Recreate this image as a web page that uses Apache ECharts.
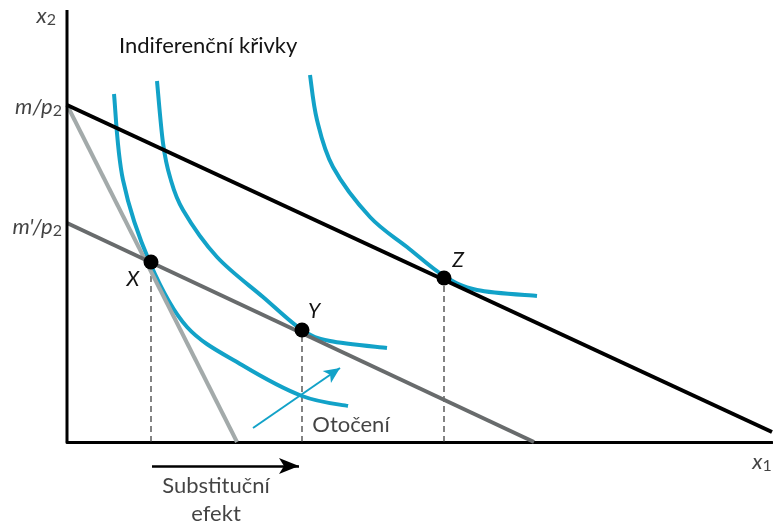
<!DOCTYPE html>
<html><head><meta charset="utf-8">
<script src="https://cdn.jsdelivr.net/npm/echarts@6/dist/echarts.min.js"></script>
<style>html,body{margin:0;padding:0;background:#fff}#c{width:773px;height:525px}</style>
</head><body><div id="c"></div>
<script>
// ---- data (units: goods x1 / x2) ----
const xRange = [0, 705];
const yRange = [-83, 432];
const yAxisLine = [[0, 0], [0, 432]];
const budgetM = [[0, 337], [705, 10]];          // m/p2 budget line
const budgetMPrime = [[0, 219], [467, 0]];      // m'/p2 budget line
const budgetPivot = [[0, 337], [170, 0]];       // rotated (pivoted) line
const curve1 = [[47,348],[56,262],[83,179],[120,115],[175,77],[235,46],[281,36]];
const curve2 = [[90,361],[96,299],[103,265],[116,232],[150,185],[196,145],[235,112],[263,101],[320,94]];
const curve3 = [[243,367],[250,322],[266,275],[303,225],[340,195],[377,166],[410,152],[470,146]];
const pointNames = ['X', 'Y', 'Z'];
const points = [[84,180],[235,112],[377,164]];
const rotationArrow = [[186,14],[273,74]];
const substitutionArrow = [[85,-24],[232,-24]];
const axisLabels = { m: [0,335], mPrime: [0,215], x2: [0,432], x1: [695,-20] };
const textLabels = { rotation: [284,17], substitution: [149,-58] };

const FONT = 'Lato';
const BLUE = '#12a2c8';
const TXT = '#141414';
const curves = [curve1, curve2, curve3];

const rich = {
  i: { fontStyle: 'italic', fontSize: 22, fontFamily: FONT, color: TXT, lineHeight: 24 },
  s: { fontSize: 16, fontFamily: FONT, color: TXT, lineHeight: 10, verticalAlign: 'bottom' }
};

function line(data, color, width, z, type) {
  return { type: 'line', data, symbol: 'none', showSymbol: false, silent: true, clip: false, z,
    lineStyle: { color, width, type: type || 'solid', cap: 'butt' } };
}
function textPoint(value, formatter, position, distance) {
  return { value, label: { show: true, formatter, position, distance } };
}

// indifference curves: smooth spline through the read points, positioned by the axes (api.coord)
function renderCurve(params, api) {
  const pts = curves[api.value(0)].map(p => api.coord(p));
  let d = 'M' + pts[0][0] + ',' + pts[0][1];
  for (let i = 0; i < pts.length - 1; i++) {
    const p0 = pts[i - 1] || pts[i], p1 = pts[i], p2 = pts[i + 1], p3 = pts[i + 2] || pts[i + 1];
    const c1 = [p1[0] + (p2[0] - p0[0]) / 6, p1[1] + (p2[1] - p0[1]) / 6];
    const c2 = [p2[0] - (p3[0] - p1[0]) / 6, p2[1] - (p3[1] - p1[1]) / 6];
    d += ' C' + c1[0] + ',' + c1[1] + ' ' + c2[0] + ',' + c2[1] + ' ' + p2[0] + ',' + p2[1];
  }
  return { type: 'path', shape: { pathData: d }, style: { stroke: BLUE, lineWidth: 4, fill: null } };
}

const series = [
  { type: 'custom', renderItem: renderCurve, data: curves.map((c, i) => [i]), silent: true, clip: false, z: 2 },
  line(budgetPivot, '#a3aaaa', 4, 3),
  line(budgetMPrime, '#686b6c', 4, 4),
  line(budgetM, '#000', 4, 5),
  line(yAxisLine, '#000', 3, 6)
];

points.forEach(p => series.push(line([[p[0], 0], [p[0], p[1]]], '#333', 1.2, 1, [6, 4])));

// arrows
series.push({
  type: 'line', data: [], silent: true, clip: false, z: 7,
  markLine: {
    silent: true, animation: false, label: { show: false },
    data: [
      [{ coord: rotationArrow[0], symbol: 'none', lineStyle: { color: BLUE, width: 2, type: 'solid', curveness: -0.08 } },
       { coord: rotationArrow[1], symbol: 'arrow', symbolSize: [11, 16], itemStyle: { color: BLUE } }],
      [{ coord: substitutionArrow[0], symbol: 'none', lineStyle: { color: '#000', width: 2.5, type: 'solid' } },
       { coord: substitutionArrow[1], symbol: 'arrow', symbolSize: [12, 20], itemStyle: { color: '#000' } }]
    ]
  }
});

// points
const pointOffsets = [[-18, 17], [12, -19], [14, -18]];
series.push({
  type: 'scatter', symbolSize: 15, z: 10, silent: true,
  itemStyle: { color: '#000', opacity: 1 },
  label: { show: true, formatter: '{b}', fontStyle: 'italic', fontSize: 21, fontFamily: FONT, color: TXT },
  data: points.map((p, i) => ({ value: p, name: pointNames[i], label: { position: 'inside', offset: pointOffsets[i] } }))
});

// text labels
series.push({
  type: 'scatter', symbolSize: 0, silent: true, z: 11, clip: false,
  label: { show: true, rich, fontFamily: FONT, color: TXT },
  data: [
    textPoint(axisLabels.m, '{i|m/p}{s|2}', 'left', 5),
    textPoint(axisLabels.mPrime, "{i|m'/p}{s|2}", 'left', 5),
    { value: axisLabels.x2, label: { show: true, formatter: '{i|x}{s|2}', position: 'left', distance: 11, offset: [0, 6] } },
    { value: axisLabels.x1, label: { show: true, formatter: '{i|x}{s|1}', position: 'inside' } },
    { value: textLabels.rotation, label: { show: true, position: 'inside', formatter: 'Otočení', fontSize: 22, fontFamily: FONT, color: TXT } },
    { value: textLabels.substitution, label: { show: true, position: 'inside', formatter: 'Substituční\nefekt', fontSize: 22, lineHeight: 28, fontFamily: FONT, color: TXT, align: 'center' } }
  ]
});

const option = {
  animation: false,
  backgroundColor: '#fff',
  title: { text: 'Indiferenční křivky', left: 114, top: 30,
    textStyle: { fontFamily: FONT, fontSize: 22, fontWeight: 'normal', color: TXT } },
  grid: { left: 67, right: 1, top: 10, bottom: 0, containLabel: false },
  xAxis: { type: 'value', min: xRange[0], max: xRange[1],
    axisLine: { show: true, onZero: true, lineStyle: { color: '#000', width: 3 } },
    axisTick: { show: false }, axisLabel: { show: false }, splitLine: { show: false } },
  yAxis: { type: 'value', min: yRange[0], max: yRange[1],
    axisLine: { show: false }, axisTick: { show: false }, axisLabel: { show: false }, splitLine: { show: false } },
  series
};
const chart = echarts.init(document.getElementById('c'));
chart.setOption(option);
</script></body></html>
